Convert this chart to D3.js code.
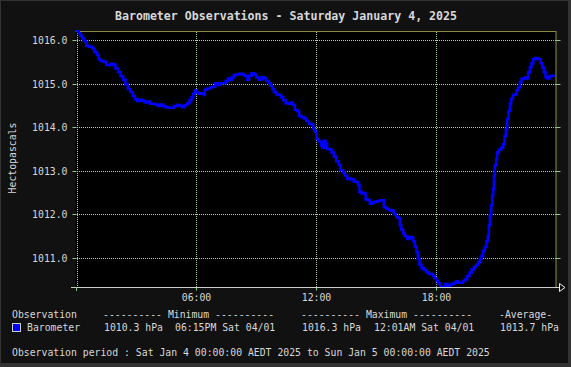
<!DOCTYPE html>
<html><head><meta charset="utf-8">
<script src="https://cdn.jsdelivr.net/npm/d3@7"></script>
<style>
html,body{margin:0;padding:0;background:#333;}
svg{display:block;}
text{font-family:"DejaVu Sans Mono",monospace;}
</style></head>
<body>
<svg id="chart" width="571" height="367"></svg>
<script>
// ---- data ----
const minutes = [0,5,10,15,20,25,32,40,50,57,65,70,75,85,92,100,107,115,120,128,135,143,150,157,165,172,178,185,192,200,207,215,223,230,240,247,255,263,270,278,287,295,305,313,320,328,335,342,348,353,358,363,370,378,385,388,395,405,413,419,427,435,443,450,457,463,469,475,483,492,500,507,515,521,528,535,542,550,558,565,572,580,585,590,595,602,610,617,623,630,638,645,652,658,665,671,678,685,692,700,707,713,717,723,730,737,740,745,750,755,762,768,775,782,790,795,803,808,815,820,827,835,843,848,852,858,865,870,877,883,890,898,905,912,920,925,932,940,948,955,962,968,973,977,983,988,995,1002,1008,1013,1018,1023,1027,1032,1038,1045,1052,1060,1067,1073,1078,1083,1088,1095,1102,1108,1115,1122,1128,1135,1142,1148,1155,1162,1168,1175,1182,1188,1195,1202,1208,1213,1218,1223,1228,1233,1237,1240,1243,1247,1250,1253,1255,1258,1262,1265,1270,1277,1283,1287,1291,1295,1299,1303,1307,1312,1318,1323,1328,1333,1338,1343,1350,1355,1358,1363,1368,1373,1378,1383,1388,1395,1400,1405,1410,1415,1422,1428,1435];
const pressure = [1016.30,1016.22,1016.16,1016.10,1016.04,1015.98,1015.87,1015.85,1015.81,1015.73,1015.66,1015.56,1015.52,1015.50,1015.43,1015.43,1015.46,1015.43,1015.35,1015.26,1015.17,1015.09,1014.98,1014.88,1014.81,1014.72,1014.65,1014.60,1014.63,1014.61,1014.57,1014.59,1014.54,1014.54,1014.52,1014.49,1014.52,1014.49,1014.46,1014.45,1014.45,1014.49,1014.51,1014.49,1014.46,1014.51,1014.55,1014.62,1014.69,1014.77,1014.85,1014.80,1014.77,1014.78,1014.74,1014.86,1014.89,1014.92,1014.93,1015.01,1014.97,1015.01,1015.01,1015.06,1015.12,1015.09,1015.15,1015.20,1015.21,1015.23,1015.21,1015.18,1015.09,1015.18,1015.24,1015.21,1015.14,1015.09,1015.15,1015.12,1015.06,1015.01,1014.95,1014.88,1014.81,1014.75,1014.74,1014.69,1014.62,1014.55,1014.54,1014.57,1014.51,1014.40,1014.37,1014.26,1014.23,1014.20,1014.14,1014.08,1014.07,1013.97,1013.90,1013.73,1013.67,1013.58,1013.53,1013.69,1013.62,1013.50,1013.49,1013.42,1013.33,1013.22,1013.13,1013.01,1012.96,1012.89,1012.81,1012.82,1012.80,1012.75,1012.74,1012.67,1012.51,1012.48,1012.49,1012.34,1012.33,1012.24,1012.27,1012.29,1012.30,1012.32,1012.32,1012.16,1012.13,1012.10,1012.08,1012.00,1011.94,1011.91,1011.75,1011.65,1011.56,1011.50,1011.43,1011.48,1011.47,1011.38,1011.26,1011.13,1010.98,1010.84,1010.76,1010.72,1010.67,1010.63,1010.63,1010.58,1010.53,1010.47,1010.41,1010.33,1010.33,1010.40,1010.34,1010.38,1010.40,1010.43,1010.46,1010.43,1010.43,1010.47,1010.50,1010.58,1010.66,1010.73,1010.79,1010.84,1010.90,1010.98,1011.05,1011.16,1011.25,1011.38,1011.51,1011.74,1011.97,1012.20,1012.43,1012.58,1012.89,1013.12,1013.27,1013.42,1013.48,1013.53,1013.61,1013.79,1013.96,1014.19,1014.37,1014.54,1014.65,1014.74,1014.75,1014.85,1014.92,1015.03,1015.11,1015.12,1015.15,1015.12,1015.26,1015.38,1015.47,1015.56,1015.59,1015.58,1015.56,1015.47,1015.37,1015.26,1015.15,1015.12,1015.17,1015.18,1015.21];
const yTickValues = [1011,1012,1013,1014,1015,1016];
const xTickMinutes = [360,720,1080];
const xTickLabels = ["06:00","12:00","18:00"];
const titleText = "Barometer Observations - Saturday January 4, 2025";
const yTitle = "Hectopascals";
const legendHeader = ["Observation","---------- Minimum ----------","---------- Maximum ----------","-Average-"];
const legendRow = ["Barometer","1010.3 hPa","06:15PM Sat 04/01","1016.3 hPa","12:01AM Sat 04/01","1013.7 hPa"];
const periodText = "Observation period : Sat Jan 4 00:00:00 AEDT 2025 to Sun Jan 5 00:00:00 AEDT 2025";

// ---- layout ----
const svg = d3.select("#chart");
const L = 75.5, R = 555.5, T = 31, B = 287;
const x = d3.scaleLinear().domain([0,1440]).range([L,R]);
const y = d3.scaleLinear().domain([1010.33,1016.21]).range([B,T]);
const txt = "#d8d8d8";
const gridCol = "#a3d3a3";

svg.append("rect").attr("x",1).attr("y",1).attr("width",567).attr("height",362).attr("fill","#111");
svg.append("rect").attr("x",L).attr("y",T).attr("width",R-L).attr("height",B-T).attr("fill","#000");

// title
svg.append("text").attr("x",286).attr("y",20).attr("text-anchor","middle")
  .attr("font-size","11.6px").attr("font-weight","bold").attr("fill",txt).text(titleText);

// grid
const grid = svg.append("g").attr("shape-rendering","crispEdges");
grid.selectAll("line.h").data(yTickValues).join("line")
  .attr("x1",77).attr("x2",R).attr("y1",d=>Math.round(y(d))+0.5).attr("y2",d=>Math.round(y(d))+0.5)
  .attr("stroke",gridCol).attr("stroke-dasharray","1,1");
grid.selectAll("line.v").data(xTickMinutes).join("line")
  .attr("y1",T+1).attr("y2",B).attr("x1",d=>Math.round(x(d))+0.5).attr("x2",d=>Math.round(x(d))+0.5)
  .attr("stroke",gridCol).attr("stroke-dasharray","1,1");

// border: top and right olive
svg.append("line").attr("x1",L).attr("x2",R+0.5).attr("y1",T+0.5).attr("y2",T+0.5).attr("stroke","#8a8a40");
svg.append("line").attr("x1",R+0.5).attr("x2",R+0.5).attr("y1",T).attr("y2",B).attr("stroke","#8a8a40");

// right ticks
svg.selectAll("line.rt").data(yTickValues).join("line")
  .attr("x1",R).attr("x2",R+5).attr("y1",d=>Math.round(y(d))+0.5).attr("y2",d=>Math.round(y(d))+0.5)
  .attr("stroke","#8c8");

// y axis (left)
const yAxis = svg.append("g").attr("transform",`translate(76.5,0)`)
  .call(d3.axisLeft(y).tickValues(yTickValues).tickFormat(d3.format(".1f")).tickSize(4).tickPadding(5).tickSizeOuter(0));
yAxis.select(".domain").attr("stroke",gridCol).attr("stroke-dasharray","1,1").attr("shape-rendering","crispEdges");
yAxis.selectAll(".tick").attr("transform",d=>`translate(0,${Math.round(y(d))+0.5})`);
yAxis.selectAll(".tick line").attr("stroke","#8c8");
yAxis.selectAll("text").attr("fill",txt).attr("font-size","9.8px")
  .attr("font-family","DejaVu Sans Mono, monospace");

// x axis (bottom)
const xAxis = svg.append("g").attr("transform",`translate(0,${B+0.5})`)
  .call(d3.axisBottom(x).tickValues(xTickMinutes).tickFormat((d,i)=>xTickLabels[i]).tickSize(3).tickSizeOuter(0).tickPadding(4));
xAxis.select(".domain").remove();
xAxis.selectAll(".tick").attr("transform",d=>`translate(${Math.round(x(d))+0.5},0)`);
xAxis.selectAll(".tick line").attr("stroke","#8c8");
xAxis.selectAll("text").attr("fill",txt).attr("font-size","9.8px")
  .attr("font-family","DejaVu Sans Mono, monospace");
svg.append("line").attr("x1",71).attr("x2",559).attr("y1",B+0.5).attr("y2",B+0.5).attr("stroke","#ccc");
svg.append("line").attr("x1",76.5).attr("x2",76.5).attr("y1",B).attr("y2",B+4).attr("stroke","#8c8");
svg.append("path").attr("d",`M${559.5},${B-3.5}L${565},${B+0.5}L${559.5},${B+4.5}Z`)
  .attr("fill","#111").attr("stroke","#eee");

// y title
svg.append("text").attr("transform","translate(16,158) rotate(-90)").attr("text-anchor","middle")
  .attr("font-size","9.8px").attr("fill",txt).text(yTitle);

// clip
svg.append("clipPath").attr("id","clip").append("rect").attr("x",L).attr("y",T-1).attr("width",R-L+1).attr("height",B-T+1);

// data line
const data = minutes.map((m,i)=>({m, v: pressure[i]}));
svg.append("path").datum(data).attr("clip-path","url(#clip)")
  .attr("d", d3.line().x(d=>x(d.m)).y(d=>y(d.v)).curve(d3.curveStepAfter))
  .attr("fill","none").attr("stroke","#0000ff").attr("stroke-width",2.5);

// legend
const fs = "9.8px";
const hx = [12,103,301,499];
svg.selectAll("text.lh").data(legendHeader).join("text")
  .attr("x",(d,i)=>hx[i]).attr("y",318).attr("font-size",fs).attr("fill",txt).attr("xml:space","preserve").text(d=>d);
const rx = [27,104,175,302,374,500];
svg.selectAll("text.lr").data(legendRow).join("text")
  .attr("x",(d,i)=>rx[i]).attr("y",331).attr("font-size",fs).attr("fill",txt).text(d=>d);
svg.append("rect").attr("x",12.5).attr("y",323.5).attr("width",8).attr("height",8)
  .attr("fill","#0000ff").attr("stroke","#ccc");
svg.append("text").attr("x",12).attr("y",356).attr("font-size",fs).attr("fill",txt).text(periodText);
</script>
</body></html>
